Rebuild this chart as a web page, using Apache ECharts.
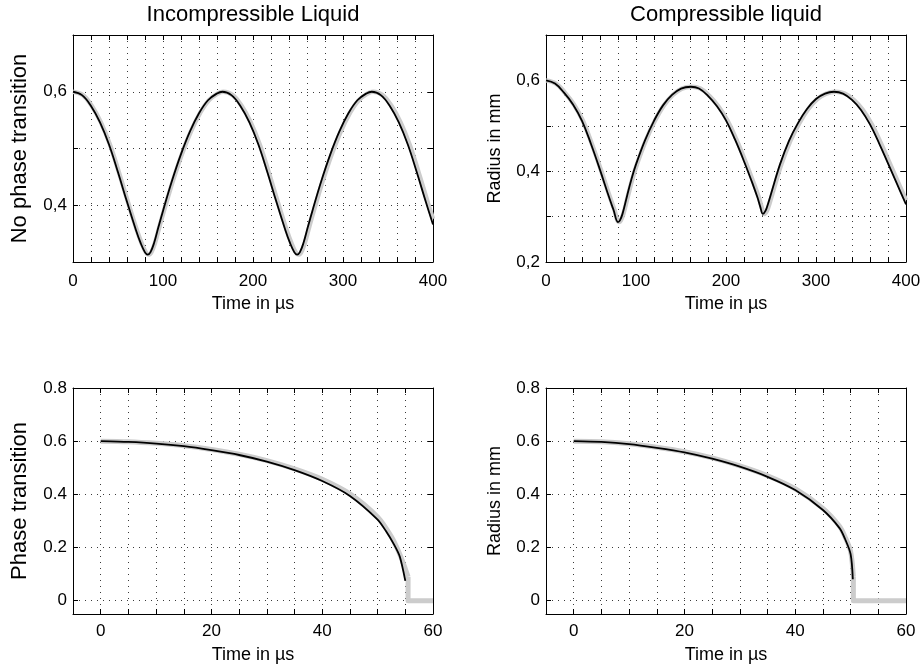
<!DOCTYPE html>
<html>
<head>
<meta charset="utf-8">
<script src="https://cdn.jsdelivr.net/npm/echarts@6/dist/echarts.min.js"></script>
<style>
  html, body { margin: 0; padding: 0; background: #fff; }
  #chart { width: 924px; height: 670px; }
</style>
</head>
<body>
<div id="chart"></div>
<script>
// --- data (time in µs, radius in mm) ---
const incompTime = [0, 10, 20, 30, 40, 50, 60, 70, 75, 80, 83, 86, 90, 95, 100, 110, 120, 130, 140, 150, 160, 166,
  176, 186, 196, 206, 216, 226, 236, 241, 246, 249, 252, 256, 261, 266, 276, 286, 296, 306, 316, 326, 332,
  342, 352, 362, 372, 382, 392, 400];
const incompRadius = [0.600, 0.594, 0.575, 0.546, 0.507, 0.458, 0.406, 0.356, 0.334, 0.317, 0.313, 0.317, 0.333, 0.362, 0.390, 0.443, 0.490, 0.530, 0.562, 0.585, 0.597, 0.600,
  0.594, 0.575, 0.546, 0.507, 0.458, 0.406, 0.356, 0.334, 0.317, 0.313, 0.317, 0.333, 0.362, 0.390, 0.443, 0.490, 0.530, 0.562, 0.585, 0.597, 0.600,
  0.594, 0.575, 0.546, 0.507, 0.458, 0.406, 0.366];
const incompRefTime = [0, 11, 21, 31, 41, 51, 61, 71, 76, 81, 84, 87, 91, 96, 101, 111, 121, 131, 141, 151, 161, 167,
  177.5, 187.5, 197.5, 207.5, 217.5, 227.5, 237.5, 242.5, 247.5, 250.5, 253.5, 257.5, 262.5, 267.5, 277.5, 287.5, 297.5, 307.5, 317.5, 327.5, 333.5,
  344, 354, 364, 374, 384, 394, 400];
const incompRefRadius = [0.600, 0.594, 0.575, 0.546, 0.507, 0.458, 0.406, 0.356, 0.334, 0.317, 0.313, 0.317, 0.333, 0.362, 0.390, 0.443, 0.490, 0.530, 0.562, 0.585, 0.597, 0.600,
  0.594, 0.575, 0.546, 0.507, 0.458, 0.406, 0.356, 0.334, 0.317, 0.313, 0.317, 0.333, 0.362, 0.390, 0.443, 0.490, 0.530, 0.562, 0.585, 0.597, 0.600,
  0.594, 0.575, 0.546, 0.507, 0.458, 0.406, 0.376];

const compTime = [0, 10, 20, 30, 40, 50, 60, 70, 75, 80, 82, 85, 90, 95, 100, 110, 120, 130, 140, 150, 161,
  170, 180, 190, 200, 210, 220, 230, 235, 238, 241, 244, 247, 250, 260, 270, 280, 290, 300, 310, 320,
  330, 340, 350, 360, 370, 380, 390, 400];
const compRadius = [0.600, 0.593, 0.573, 0.547, 0.511, 0.460, 0.403, 0.343, 0.315, 0.288, 0.291, 0.306, 0.345, 0.383, 0.415, 0.468, 0.511, 0.545, 0.568, 0.582, 0.586,
  0.582, 0.566, 0.543, 0.512, 0.470, 0.422, 0.370, 0.342, 0.322, 0.306, 0.313, 0.330, 0.350, 0.415, 0.467, 0.506, 0.537, 0.559, 0.571, 0.575,
  0.571, 0.557, 0.535, 0.503, 0.462, 0.417, 0.372, 0.327];
const compRefTime = [0, 11, 21, 31, 41, 51, 61, 71, 76, 81, 83, 86, 91, 96, 101, 111, 121, 131, 141, 151, 162,
  171.5, 181.5, 191.5, 201.5, 211.5, 221.5, 231.5, 236.5, 239.5, 242.5, 245.5, 248.5, 251.5, 261.5, 271.5, 281.5, 291.5, 301.5, 311.5, 321.5,
  332, 342, 352, 362, 372, 382, 392, 400];
const compRefRadius = [0.600, 0.593, 0.573, 0.547, 0.511, 0.460, 0.403, 0.343, 0.315, 0.288, 0.291, 0.306, 0.345, 0.383, 0.415, 0.468, 0.511, 0.545, 0.568, 0.582, 0.586,
  0.582, 0.566, 0.543, 0.512, 0.470, 0.422, 0.370, 0.342, 0.322, 0.306, 0.313, 0.330, 0.350, 0.415, 0.467, 0.506, 0.537, 0.559, 0.571, 0.575,
  0.571, 0.557, 0.535, 0.503, 0.462, 0.417, 0.372, 0.336];

const incompPhaseTime = [0, 5, 10, 15, 20, 25, 30, 35, 40, 45, 50, 51.5, 53, 54, 55];
const incompPhaseRadius = [0.600, 0.597, 0.591, 0.581, 0.566, 0.548, 0.523, 0.491, 0.450, 0.394, 0.305, 0.262, 0.210, 0.166, 0.075];
const incompPhaseRefTime = [0, 5, 10, 15, 20, 25, 30, 35, 40, 45, 50, 52.5, 54, 55, 55.5];
const incompPhaseRefRadius = [0.600, 0.598, 0.592, 0.583, 0.569, 0.551, 0.527, 0.496, 0.457, 0.402, 0.315, 0.240, 0.175, 0.120, 0.090];
const incompPhaseStepTime = [55.5, 55.5, 60];
const incompPhaseStepRadius = [0.090, 0, 0];

const compPhaseTime = [0, 5, 10, 15, 20, 25, 30, 35, 40, 45, 48, 49, 50, 50.4];
const compPhaseRadius = [0.600, 0.597, 0.589, 0.575, 0.558, 0.534, 0.504, 0.466, 0.416, 0.341, 0.273, 0.232, 0.175, 0.081];
const compPhaseRefTime = [0, 5, 10, 15, 20, 25, 30, 35, 40, 45, 48, 49, 50, 50.5];
const compPhaseRefRadius = [0.600, 0.598, 0.590, 0.577, 0.560, 0.537, 0.507, 0.470, 0.421, 0.347, 0.280, 0.240, 0.185, 0.090];
const compPhaseStepTime = [50.5, 50.5, 60];
const compPhaseStepRadius = [0.090, 0, 0];

// tick labels that are actually printed
const longTimeLabels = [0, 100, 200, 300, 400];
const shortTimeLabels = [0, 20, 40, 60];
const incompRadiusLabels = [0.4, 0.6];
const compRadiusLabels = [0.2, 0.4, 0.6];
const phaseRadiusLabels = [0, 0.2, 0.4, 0.6, 0.8];

const FONT = '"Liberation Sans", Arial, Helvetica, sans-serif';
const GRID_LINE = { color: '#3a3a3a', width: 1, type: [1, 5] };
const REF_COLOR = '#cccccc';

function pairs(xs, ys) {
  return xs.map((x, i) => [x, ys[i]]);
}

function pickLabel(labels, format) {
  return (v) => (labels.some((l) => Math.abs(l - v) < 1e-6) ? format(v) : '');
}

const commaFmt = (v) => v.toFixed(1).replace('.', ',');
const dotFmt = (v) => String(Number(v.toFixed(1)));
const intFmt = (v) => String(Math.round(v));

function axisBase(gridIndex, scale) {
  return {
    type: 'value',
    gridIndex,
    ...scale,
    axisLine: { show: true, onZero: false, lineStyle: { color: '#000', width: 1 } },
    axisTick: { show: true, inside: true, length: 5, lineStyle: { color: '#000', width: 1 } },
  };
}

function xAxisPair(gridIndex, scale, formatter, labelMargin, nameGap) {
  const base = axisBase(gridIndex, scale);
  return [
    {
      ...base,
      position: 'bottom',
      name: 'Time in µs',
      nameLocation: 'middle',
      nameGap,
      nameTextStyle: { color: '#000', fontSize: 18, fontFamily: FONT },
      axisLabel: { formatter, margin: labelMargin, color: '#000', fontSize: 17, fontFamily: FONT },
      splitLine: { show: true, lineStyle: GRID_LINE },
    },
    { ...base, position: 'top', axisLabel: { show: false }, splitLine: { show: false } },
  ];
}

function yAxisPair(gridIndex, scale, formatter, name, nameSize) {
  const base = axisBase(gridIndex, scale);
  return [
    {
      ...base,
      position: 'left',
      name,
      nameLocation: 'middle',
      nameGap: 42,
      nameTextStyle: { color: '#000', fontSize: nameSize, fontFamily: FONT },
      axisLabel: { formatter, margin: 6, color: '#000', fontSize: 17, fontFamily: FONT, showMinLabel: true, showMaxLabel: true },
      splitLine: { show: true, lineStyle: GRID_LINE },
    },
    { ...base, position: 'right', axisLabel: { show: false }, splitLine: { show: false } },
  ];
}

function curve(axisIndex, xs, ys, color, width, smooth, z) {
  return {
    type: 'line',
    xAxisIndex: axisIndex,
    yAxisIndex: axisIndex,
    data: pairs(xs, ys),
    symbol: 'none',
    smooth,
    silent: true,
    z,
    lineStyle: { color, width, cap: 'butt', join: 'round' },
  };
}

const LONG_TIME = { min: 0, max: 400, interval: 20 };
const SHORT_TIME = { min: -5, max: 60, interval: 5 };
const INCOMP_Y = { min: 0.3, max: 0.7, interval: 0.1 };
const COMP_Y = { min: 0.2, max: 0.7, interval: 0.1 };
const PHASE_Y = { min: -0.05, max: 0.8, minInterval: 0.2, maxInterval: 0.2 };

const grids = [
  { left: 73, top: 35, width: 360, height: 227 },
  { left: 546, top: 35, width: 360, height: 227 },
  { left: 73, top: 388, width: 360, height: 226 },
  { left: 546, top: 388, width: 360, height: 226 },
].map((g) => ({ ...g, containLabel: false, outerBoundsMode: 'none', show: false }));

const xAxes = [
  ...xAxisPair(0, LONG_TIME, pickLabel(longTimeLabels, intFmt), 11, 33),
  ...xAxisPair(1, LONG_TIME, pickLabel(longTimeLabels, intFmt), 11, 33),
  ...xAxisPair(2, SHORT_TIME, pickLabel(shortTimeLabels, intFmt), 9, 32),
  ...xAxisPair(3, SHORT_TIME, pickLabel(shortTimeLabels, intFmt), 9, 32),
];

const yAxes = [
  ...yAxisPair(0, INCOMP_Y, pickLabel(incompRadiusLabels, commaFmt), 'No phase transition', 22),
  ...yAxisPair(1, COMP_Y, pickLabel(compRadiusLabels, commaFmt), 'Radius in mm', 18),
  ...yAxisPair(2, PHASE_Y, pickLabel(phaseRadiusLabels, dotFmt), 'Phase transition', 22),
  ...yAxisPair(3, PHASE_Y, pickLabel(phaseRadiusLabels, dotFmt), 'Radius in mm', 18),
];

const series = [
  curve(0, incompRefTime, incompRefRadius, REF_COLOR, 4.5, 0.4, 2),
  curve(0, incompTime, incompRadius, '#000', 1.8, 0.4, 3),
  curve(2, compRefTime, compRefRadius, REF_COLOR, 4.5, 0.4, 2),
  curve(2, compTime, compRadius, '#000', 1.8, 0.4, 3),
  curve(4, incompPhaseRefTime, incompPhaseRefRadius, REF_COLOR, 5, 0.3, 2),
  curve(4, incompPhaseStepTime, incompPhaseStepRadius, REF_COLOR, 5, false, 2),
  curve(4, incompPhaseTime, incompPhaseRadius, '#000', 1.8, 0.25, 3),
  curve(6, compPhaseRefTime, compPhaseRefRadius, REF_COLOR, 5, 0.3, 2),
  curve(6, compPhaseStepTime, compPhaseStepRadius, REF_COLOR, 5, false, 2),
  curve(6, compPhaseTime, compPhaseRadius, '#000', 1.8, 0.3, 3),
];

const titleStyle = { color: '#000', fontSize: 22, fontWeight: 'normal', fontFamily: FONT };

const chart = echarts.init(document.getElementById('chart'), null, { renderer: 'canvas' });
chart.setOption({
  animation: false,
  backgroundColor: '#fff',
  title: [
    { text: 'Incompressible Liquid', left: 253, top: 4, textAlign: 'center', padding: 0, textStyle: titleStyle },
    { text: 'Compressible liquid', left: 726, top: 4, textAlign: 'center', padding: 0, textStyle: titleStyle },
  ],
  grid: grids,
  xAxis: xAxes,
  yAxis: yAxes,
  series,
});
</script>
</body>
</html>
